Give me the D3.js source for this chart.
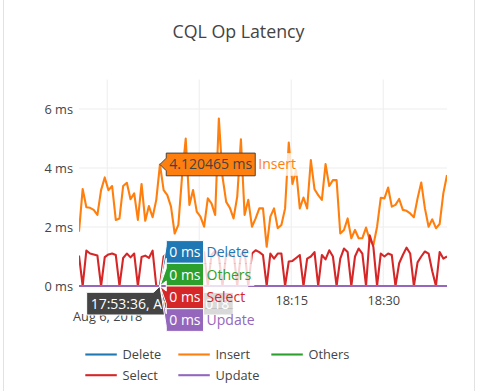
<!DOCTYPE html>
<html><head><meta charset="utf-8">
<script src="https://cdn.jsdelivr.net/npm/d3@7"></script>
<style>
html,body{margin:0;padding:0;background:#fff;}
svg{display:block;font-family:"Open Sans",sans-serif;}
</style>
</head><body>
<svg id="chart" width="477" height="391"></svg>
<script>
// ---------------- data ----------------
const chartTitle = "CQL Op Latency";
const seriesNames = ["Delete", "Insert", "Others", "Select", "Update"];
const seriesColors = ["#1f77b4", "#ff7f0e", "#2ca02c", "#d62728", "#9467bd"];
const startTime = "2018-08-06T17:40:24";
const stepSeconds = 36;
const insertValues = [1.84, 3.29, 2.67, 2.65, 2.58, 2.41, 3.25, 3.68, 3.25, 3.39, 2.24, 2.29, 3.39, 3.5, 2.94, 3.14, 2.24, 3.46, 2.21, 2.71, 2.33, 2.92, 4.120465,
  3.25, 3.08, 2.69, 1.78, 2.07, 3.71, 5.0, 2.75, 3.25, 2.52, 2.35, 2.01, 2.97, 2.80, 2.41, 5.68, 3.7, 2.85, 2.65, 2.29, 3.03, 4.97, 2.41, 2.92, 2.01, 2.29,
  2.63, 2.63, 1.33, 2.35, 2.63, 1.96, 2.07, 2.63, 4.86, 3.46, 3.93, 2.63, 3.0, 2.63, 4.27, 3.28, 3.08, 2.92, 4.13, 3.39, 3.59, 3.59, 1.78, 1.9, 2.29, 1.62,
  1.9, 1.62, 1.62, 1.98, 1.56, 1.39, 2.01, 2.99, 2.97, 3.34, 2.69, 2.75, 2.95, 2.58, 2.55, 2.46, 2.33, 2.97, 3.51, 2.63, 2.01, 2.26, 1.96, 2.1, 3.14, 3.76];
const selectValues = [1.03, 0, 1.2, 1.1, 1.07, 1.03, 0, 0.98, 1.07, 1.1, 1.05, 0, 0.95, 1.1, 0.97, 1.1, 0, 0.98, 1.03, 0.95, 1.2, 0, 0,
  1.0, 1.12, 1.05, 0, 1.08, 0.98, 1.15, 1.05, 0, 1.1, 1.0, 1.15, 0, 1.05, 1.2, 1.0, 0, 1.1, 1.02, 1.15, 0, 1.08, 1.2, 0,
  1.1, 1.21, 1.15, 1.05, 0, 1.1, 0.93, 1.1, 1.1, 0, 0.83, 0.85, 0.95, 1.05, 0, 0.93, 1.0, 1.15, 0, 1.05, 0.9, 1.21, 1.0, 0,
  0.93, 1.27, 1.15, 0, 1.0, 1.27, 1.1, 0, 1.72, 1.32, 0, 1.1, 1.0, 1.1, 1.05, 0, 0.77, 1.05, 1.3, 1.1, 0, 0.8, 1.0, 1.17, 1.1, 0.5, 0,
  1.15, 0.93, 1.0];
const zeroValues = [0,0,0,0,0,0,0,0,0,0, 0,0,0,0,0,0,0,0,0,0, 0,0,0,0,0,0,0,0,0,0, 0,0,0,0,0,0,0,0,0,0, 0,0,0,0,0,0,0,0,0,0,
  0,0,0,0,0,0,0,0,0,0, 0,0,0,0,0,0,0,0,0,0, 0,0,0,0,0,0,0,0,0,0, 0,0,0,0,0,0,0,0,0,0, 0,0,0,0,0,0,0,0,0,0, 0];
const deleteValues = zeroValues, othersValues = zeroValues, updateValues = zeroValues;
const seriesValues = [deleteValues, insertValues, othersValues, selectValues, updateValues];
const yTickValues = [0, 2, 4, 6];
const xTickLabels = ["17:45", "18:00", "18:15", "18:30"];
const xDateLabel = "Aug 6, 2018";
const hoverIndex = 22;

// ---------------- layout ----------------
const W = 477, H = 391;
const plot = {left: 79, right: 447, top: 79.5, bottom: 286};
const ink = "#444";
const parseT = d3.timeParse("%Y-%m-%dT%H:%M:%S");
const t0 = parseT(startTime);
const times = insertValues.map((_, i) => new Date(t0.getTime() + i * stepSeconds * 1000));

const svg = d3.select("#chart");
svg.append("rect").attr("x", 3.5).attr("y", -2).attr("width", 471).attr("height", H + 4)
  .attr("fill", "#fff").attr("stroke", "#e2e2e2");

const x = d3.scaleTime().domain([times[0], times[times.length - 1]]).range([plot.left, plot.right]);
const y = d3.scaleLinear().domain([0, 7]).range([plot.bottom, plot.top]);

const dayStr = d3.timeFormat("%Y-%m-%d")(t0);
const tickTimes = xTickLabels.map(s => parseT(dayStr + "T" + s + ":00"));

// title
svg.append("text").attr("x", W / 2).attr("y", 37.5).attr("text-anchor", "middle")
  .attr("font-size", 17.8).attr("fill", ink).text(chartTitle);

// grid
const grid = svg.append("g");
grid.selectAll(".gy").data(yTickValues.filter(v => v !== 0)).join("line")
  .attr("x1", plot.left).attr("x2", plot.right).attr("y1", d => y(d)).attr("y2", d => y(d))
  .attr("stroke", "#eee").attr("stroke-width", 1.05);
grid.selectAll(".gx").data(tickTimes).join("line")
  .attr("x1", d => x(d)).attr("x2", d => x(d)).attr("y1", plot.top).attr("y2", plot.bottom)
  .attr("stroke", "#eee").attr("stroke-width", 1.05);

// axes
const yAxis = svg.append("g").attr("transform", `translate(${plot.left},0)`)
  .call(d3.axisLeft(y).tickValues(yTickValues).tickSize(0).tickPadding(6).tickFormat(d => d + " ms"));
yAxis.select(".domain").remove();
yAxis.selectAll("text").attr("font-size", 12.8).attr("fill", ink).attr("font-family", "Open Sans");

const xAxis = svg.append("g").attr("transform", `translate(0,${plot.bottom})`)
  .call(d3.axisBottom(x).tickValues(tickTimes).tickSize(0).tickPadding(10.2).tickFormat((d, i) => xTickLabels[i]));
xAxis.select(".domain").remove();
xAxis.selectAll("text").attr("font-size", 12.8).attr("fill", ink).attr("font-family", "Open Sans");
xAxis.select(".tick text").append("tspan").attr("x", 0).attr("dy", "1.25em").text(xDateLabel);

// lines
svg.append("clipPath").attr("id", "clip").append("rect")
  .attr("x", plot.left).attr("y", plot.top).attr("width", plot.right - plot.left).attr("height", plot.bottom - plot.top + 3);
const line = d3.line().x((d, i) => x(times[i])).y(d => y(d));
const lines = svg.append("g").attr("clip-path", "url(#clip)");
seriesValues.forEach((vals, k) => {
  lines.append("path").datum(vals).attr("d", line).attr("fill", "none")
    .attr("stroke", seriesColors[k]).attr("stroke-width", 2.1).attr("stroke-linejoin", "round");
});

// legend
const legend = svg.append("g");
const legCols = [80, 173, 266], legRows = [354.5, 375.2];
seriesNames.forEach((name, k) => {
  const gx = legCols[k % 3], gy = legRows[Math.floor(k / 3)];
  legend.append("line").attr("x1", gx + 5.3).attr("x2", gx + 36.8).attr("y1", gy).attr("y2", gy)
    .attr("stroke", seriesColors[k]).attr("stroke-width", 2.1);
  legend.append("text").attr("x", gx + 42.5).attr("y", gy).attr("dy", "0.36em")
    .attr("font-size", 12.8).attr("fill", ink).text(name);
});

// ---------------- hover labels ----------------
const FS = 14, PAD = 3, A = 6.3, BH = 22.7;
const hov = svg.append("g");
function textWidth(str) {
  const t = hov.append("text").attr("font-size", FS).text(str);
  const w = t.node().getComputedTextLength();
  t.remove();
  return w;
}
const px = x(times[hoverIndex]);

// x hover label
const xLabel = d3.timeFormat("%H:%M:%S, %b %-d, %Y")(times[hoverIndex]);
const xw = textWidth(xLabel) + 2 * PAD + 2;
const xg = hov.append("g").attr("transform", `translate(${px},${plot.bottom})`);
xg.append("path").attr("d", `M0,0L${A},${A}H${xw / 2}v${BH}H${-xw / 2}V${A}H${-A}Z`)
  .attr("fill", ink).attr("stroke", "#fff").attr("stroke-width", 1);
xg.append("text").attr("x", 0).attr("y", A + BH / 2).attr("dy", "0.35em").attr("text-anchor", "middle")
  .attr("font-size", FS).attr("fill", "#fff").text(xLabel);

// trace labels: stack labels sharing a position around their mean
const labels = seriesNames.map((name, k) => ({
  name, color: seriesColors[k], v: seriesValues[k][hoverIndex], py: y(seriesValues[k][hoverIndex])
}));
const groups = d3.group(labels, d => d.py);
groups.forEach(arr => {
  arr.forEach((d, j) => { d.cy = d.py + (j - (arr.length - 1) / 2) * BH; });
});
function isLight(c) {
  const r = d3.rgb(c);
  return (r.r * 299 + r.g * 587 + r.b * 114) / 1000 > 128;
}
labels.forEach(d => {
  const light = isLight(d.color);
  const txtCol = light ? ink : "#fff";
  const valStr = (+d.v.toFixed(6)) + " ms";
  const w = textWidth(valStr) + 2 * PAD;
  const nw = textWidth(d.name) + 2 * PAD;
  const off = d.cy - d.py;
  const g = hov.append("g").attr("transform", `translate(${px},${d.py})`);
  g.append("rect").attr("x", A + w).attr("y", off - BH / 2).attr("width", nw).attr("height", BH)
    .attr("fill", "rgba(255,255,255,0.8)");
  g.append("path")
    .attr("d", `M0,0L${A},${off - A}V${off - BH / 2}H${A + w}V${off + BH / 2}H${A}V${off + A}Z`)
    .attr("fill", d.color).attr("stroke", txtCol).attr("stroke-width", 1);
  g.append("text").attr("x", A + PAD).attr("y", off).attr("dy", "0.35em")
    .attr("font-size", FS).attr("fill", txtCol).text(valStr);
  g.append("text").attr("x", A + w + PAD).attr("y", off).attr("dy", "0.35em")
    .attr("font-size", FS).attr("fill", d.color).text(d.name);
});
</script>
</body></html>
